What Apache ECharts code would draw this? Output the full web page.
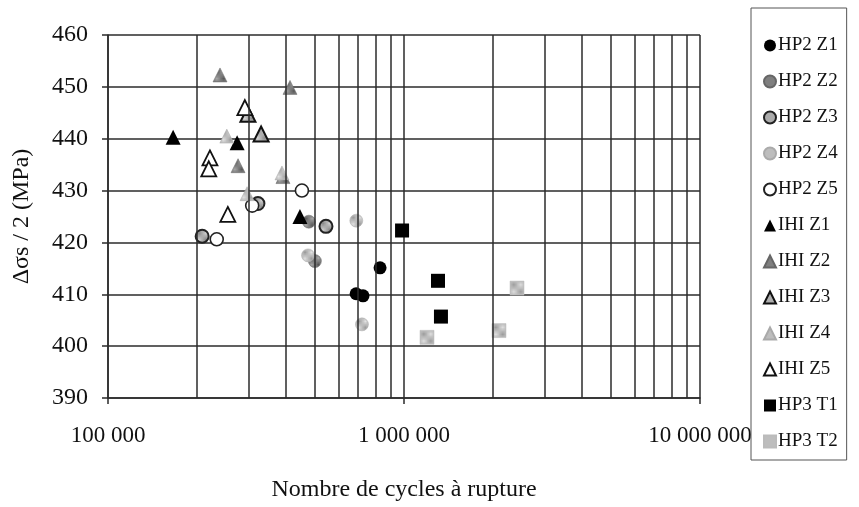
<!DOCTYPE html>
<html>
<head>
<meta charset="utf-8">
<script src="https://cdn.jsdelivr.net/npm/echarts@6/dist/echarts.min.js"></script>
<style>
  html, body { margin: 0; padding: 0; background: #fff; }
  #chart { width: 859px; height: 507px; }
</style>
</head>
<body>
<div id="chart"></div>
<script>
// Fatigue results: number of cycles to failure vs stress amplitude
const hp2z1 = [[689000, 410.1], [727000, 409.7], [830000, 415.1]];
const hp2z2 = [[477000, 424.0], [500000, 416.4]];
const hp2z3 = [[208000, 421.2], [321000, 427.5], [545000, 423.1]];
const hp2z4 = [[474000, 417.5], [690000, 424.2], [721000, 404.2]];
const hp2z5 = [[233000, 420.6], [307000, 427.1], [452000, 430.0]];
const ihiz1 = [[166000, 440.3], [273000, 439.2], [445000, 425.0]];
const ihiz2 = [[239000, 452.3], [412000, 449.9], [275000, 434.8], [390000, 432.7]];
const ihiz3 = [[297000, 444.7], [329000, 440.9]];
const ihiz4 = [[252000, 440.5], [295000, 429.4], [387000, 433.4]];
const ihiz5 = [[290000, 446.0], [221000, 436.3], [219000, 434.2], [254000, 425.4]];
const hp3t1 = [[985000, 422.3], [1303000, 412.6], [1333000, 405.7]];
const hp3t2 = [[1196000, 401.7], [2094000, 403.0], [2409000, 411.2]];

const seriesNames = ['HP2 Z1', 'HP2 Z2', 'HP2 Z3', 'HP2 Z4', 'HP2 Z5',
  'IHI Z1', 'IHI Z2', 'IHI Z3', 'IHI Z4', 'IHI Z5', 'HP3 T1', 'HP3 T2'];

// intermediate decade lines (2..9 x 10^n)
const minorCycles = [200000, 300000, 400000, 500000, 600000, 700000, 800000, 900000,
  2000000, 3000000, 4000000, 5000000, 6000000, 7000000, 8000000, 9000000];

const xMin = 100000, xMax = 10000000;
const yMin = 390, yMax = 460, yStep = 10;

const serif = '"Liberation Serif", "DejaVu Serif", serif';
const gridColor = '#2b2b2b';

// small dotted textures for the halftone-like fills
function dotPattern(dark, light) {
  const c = document.createElement('canvas');
  c.width = 2; c.height = 2;
  const g = c.getContext('2d');
  g.fillStyle = light; g.fillRect(0, 0, 2, 2);
  g.fillStyle = dark; g.fillRect(0, 0, 1, 1); g.fillRect(1, 1, 1, 1);
  return { image: c, repeat: 'repeat' };
}

const styles = [
  { symbol: 'circle', size: 13, color: '#000', border: '#000', bw: 0 },
  { symbol: 'circle', size: 13, color: dotPattern('#555', '#aaa'), border: '#666', bw: 0.5 },
  { symbol: 'circle', size: 13, color: dotPattern('#888', '#cfcfcf'), border: '#222', bw: 2 },
  { symbol: 'circle', size: 13, color: dotPattern('#999', '#e2e2e2'), border: '#aaa', bw: 0.5 },
  { symbol: 'circle', size: 13, color: '#fff', border: '#222', bw: 1.6 },
  { symbol: 'triangle', size: 15, color: '#000', border: '#000', bw: 0 },
  { symbol: 'triangle', size: 14, color: dotPattern('#555', '#aaa'), border: '#666', bw: 0.5 },
  { symbol: 'triangle', size: 15, color: dotPattern('#888', '#d5d5d5'), border: '#111', bw: 2 },
  { symbol: 'triangle', size: 14, color: dotPattern('#999', '#e2e2e2'), border: '#aaa', bw: 0.5 },
  { symbol: 'triangle', size: 15, color: '#fff', border: '#111', bw: 1.8 },
  { symbol: 'rect', size: 14, color: '#000', border: '#000', bw: 0 },
  { symbol: 'rect', size: 14, color: dotPattern('#999', '#e2e2e2'), border: '#bbb', bw: 0.5 }
];

const datasets = [hp2z1, hp2z2, hp2z3, hp2z4, hp2z5, ihiz1, ihiz2, ihiz3, ihiz4, ihiz5, hp3t1, hp3t2];

const series = datasets.map((d, i) => ({
  name: seriesNames[i],
  type: 'scatter',
  data: d,
  symbol: styles[i].symbol,
  symbolSize: styles[i].size,
  itemStyle: { color: styles[i].color, borderColor: styles[i].border, borderWidth: styles[i].bw, opacity: 1 },
  z: 3
}));

// vertical lines for the intermediate cycle counts
series.push({
  name: 'grid-minor',
  type: 'scatter',
  data: [],
  silent: true,
  z: 1,
  markLine: {
    silent: true,
    symbol: ['none', 'none'],
    label: { show: false },
    lineStyle: { color: gridColor, width: 1.5, type: 'solid' },
    emphasis: { disabled: true },
    data: minorCycles.map(v => ({ xAxis: v }))
  }
});

function spaced(v) {
  return String(Math.round(v)).replace(/\B(?=(\d{3})+(?!\d))/g, ' ');
}

const chart = echarts.init(document.getElementById('chart'), null, { renderer: 'canvas' });
chart.setOption({
  backgroundColor: '#fff',
  animation: false,
  textStyle: { fontFamily: serif, color: '#111' },
  grid: { left: 108, right: 159, top: 35, bottom: 106, containLabel: false },
  legend: {
    data: seriesNames,
    orient: 'vertical',
    left: 751,
    top: 8,
    padding: [28, 9, 9, 12],
    itemGap: 17,
    itemWidth: 12,
    itemHeight: 12,
    borderColor: '#555',
    borderWidth: 1,
    selectedMode: false,
    textStyle: { fontFamily: serif, fontSize: 19, color: '#111', lineHeight: 16, padding: [0, 0, 0, -3] }
  },
  xAxis: {
    type: 'log',
    logBase: 10,
    min: xMin,
    max: xMax,
    name: 'Nombre de cycles à rupture',
    nameLocation: 'middle',
    nameGap: 80,
    nameTextStyle: { fontFamily: serif, fontSize: 24, color: '#111' },
    axisLine: { show: true, onZero: false, lineStyle: { color: gridColor, width: 1.5 } },
    axisTick: { show: true, inside: false, length: 6, lineStyle: { color: gridColor, width: 1.5 } },
    minorTick: { show: false },
    axisLabel: { fontFamily: serif, fontSize: 23, color: '#111', margin: 26, formatter: spaced },
    splitLine: { show: true, lineStyle: { color: gridColor, width: 1.5 } }
  },
  yAxis: {
    type: 'value',
    min: yMin,
    max: yMax,
    interval: yStep,
    name: 'Δσs / 2 (MPa)',
    nameLocation: 'middle',
    nameGap: 74,
    nameTextStyle: { fontFamily: serif, fontSize: 24, color: '#111' },
    axisLine: { show: true, lineStyle: { color: gridColor, width: 1.5 } },
    axisTick: { show: true, inside: false, length: 6, lineStyle: { color: gridColor, width: 1.5 } },
    axisLabel: { fontFamily: serif, fontSize: 24, color: '#111', margin: 20 },
    splitLine: { show: true, lineStyle: { color: gridColor, width: 1.5 } }
  },
  series: series
});
</script>
</body>
</html>
